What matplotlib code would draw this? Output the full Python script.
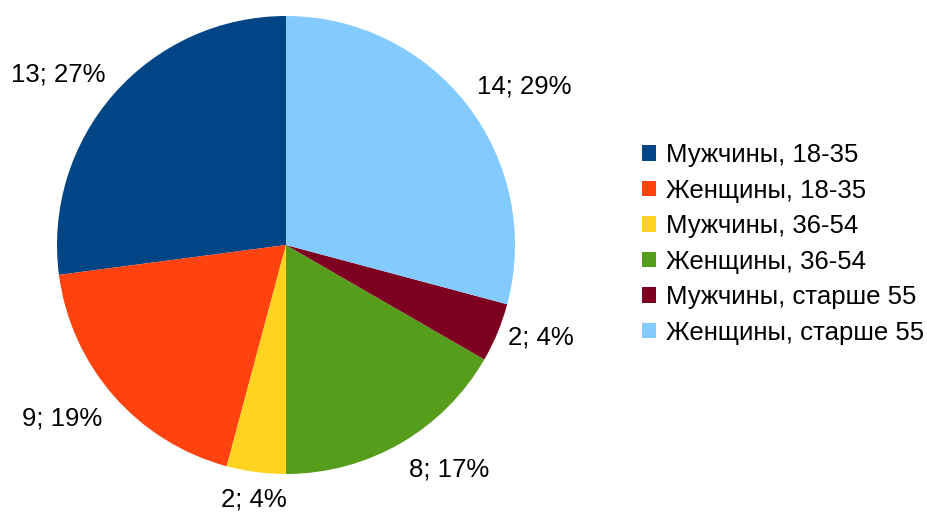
import numpy as np
import matplotlib
matplotlib.use('Agg')
import matplotlib.pyplot as plt
from matplotlib.patches import Patch

plt.rcParams['font.family'] = ['Liberation Sans', 'DejaVu Sans']

labels = ['Мужчины, 18-35', 'Женщины, 18-35', 'Мужчины, 36-54',
          'Женщины, 36-54', 'Мужчины, старше 55', 'Женщины, старше 55']
values = [13, 9, 2, 8, 2, 14]
colors = ['#004586', '#ff420e', '#ffd320', '#579d1c', '#7e0021', '#83caff']

W, H = 927, 513
fs = 18.5
fig = plt.figure(figsize=(W / 100, H / 100), dpi=100)
ax = fig.add_axes([0, 0, 1, 1])

cx, cy, r = 286, H - 245, 229
wedges, _ = ax.pie(values, colors=colors, startangle=90, counterclock=True,
                   center=(cx, cy), radius=r, frame=True)
ax.set_xlim(0, W)
ax.set_ylim(0, H)
ax.set_aspect('equal')
ax.axis('off')

total = sum(values)
for w, v in zip(wedges, values):
    ang = np.deg2rad((w.theta1 + w.theta2) / 2)
    c, s = np.cos(ang), np.sin(ang)
    d = 1.07 if s < -0.5 else 1.05
    x = cx + d * r * c
    y = cy + d * r * s
    ha = 'left' if c > 0.2 else ('right' if c < -0.2 else 'center')
    va = 'bottom' if s > 0.5 else ('top' if s < -0.5 else 'center')
    ax.text(x, y, f'{v}; {round(100 * v / total)}%', ha=ha, va=va, fontsize=fs)

handles = [Patch(facecolor=col, edgecolor='none') for col in colors]
fig.legend(handles, labels, loc='upper left', bbox_to_anchor=(642 / W, 1 - 143 / H),
           frameon=False, fontsize=fs, handlelength=0.55, handleheight=0.55,
           handletextpad=0.4, labelspacing=0.45, borderaxespad=0, borderpad=0)

fig.savefig('out.png', dpi=100)
